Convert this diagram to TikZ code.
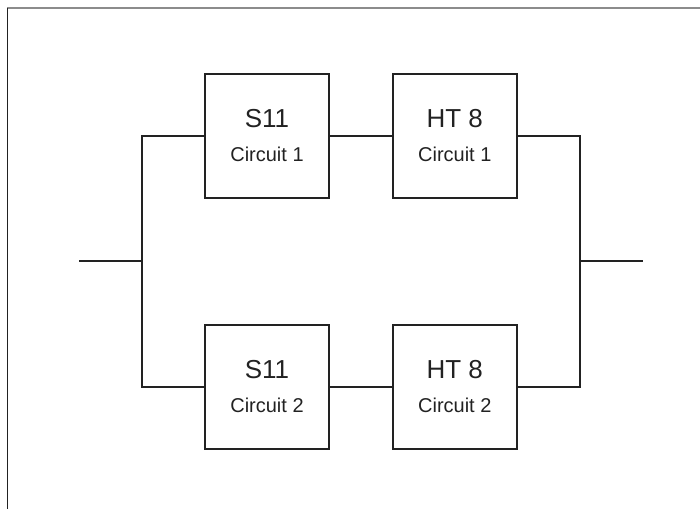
\documentclass[tikz,border=0pt]{standalone}
\usepackage{fontspec}
\setmainfont{Liberation Sans}
\usetikzlibrary{positioning}
\definecolor{wiregray}{RGB}{34,34,34}
\definecolor{framegray}{RGB}{140,140,140}
\newcommand{\unitlabel}[2]{%
  {\fontsize{26}{30}\selectfont #1}\\[10pt]#2%
}
\tikzset{
  unitbox/.style={draw=wiregray,line width=1.8pt,minimum width=124pt,
    minimum height=124pt,align=center,inner sep=0pt,text=wiregray,
    font=\fontsize{20}{24}\selectfont},
  wire/.style={draw=wiregray,line width=1.8pt}
}

\begin{document}
\begin{tikzpicture}[x=1pt,y=-1pt]
    \useasboundingbox (0,0) rectangle (700,509);
    % frame
    \draw[framegray,line width=1.3pt] (7,8) -- (700,8);
    \draw[wiregray,line width=0.8pt] (7,8) -- (7,509);
    % the two circuits
    \node[unitbox] (s1) at (267,136) {\unitlabel{S11}{Circuit 1}};
    \node[unitbox,right=62pt of s1] (h1) {\unitlabel{HT 8}{Circuit 1}};
    \node[unitbox] (s2) at (267,387) {\unitlabel{S11}{Circuit 2}};
    \node[unitbox,right=62pt of s2] (h2) {\unitlabel{HT 8}{Circuit 2}};
    \coordinate (in) at (79,261);
    \coordinate (jl) at (142,261);
    \coordinate (jr) at (580,261);
    \coordinate (out) at (643,261);
    % wiring
    \draw[wire] (in) -- (jl);
    \draw[wire] (s1.west) -| (jl) |- (s2.west);
    \draw[wire] (s1) -- (h1);
    \draw[wire] (s2) -- (h2);
    \draw[wire] (h1.east) -| (jr) |- (h2.east);
    \draw[wire] (jr) -- (out);
  \end{tikzpicture}
\end{document}
